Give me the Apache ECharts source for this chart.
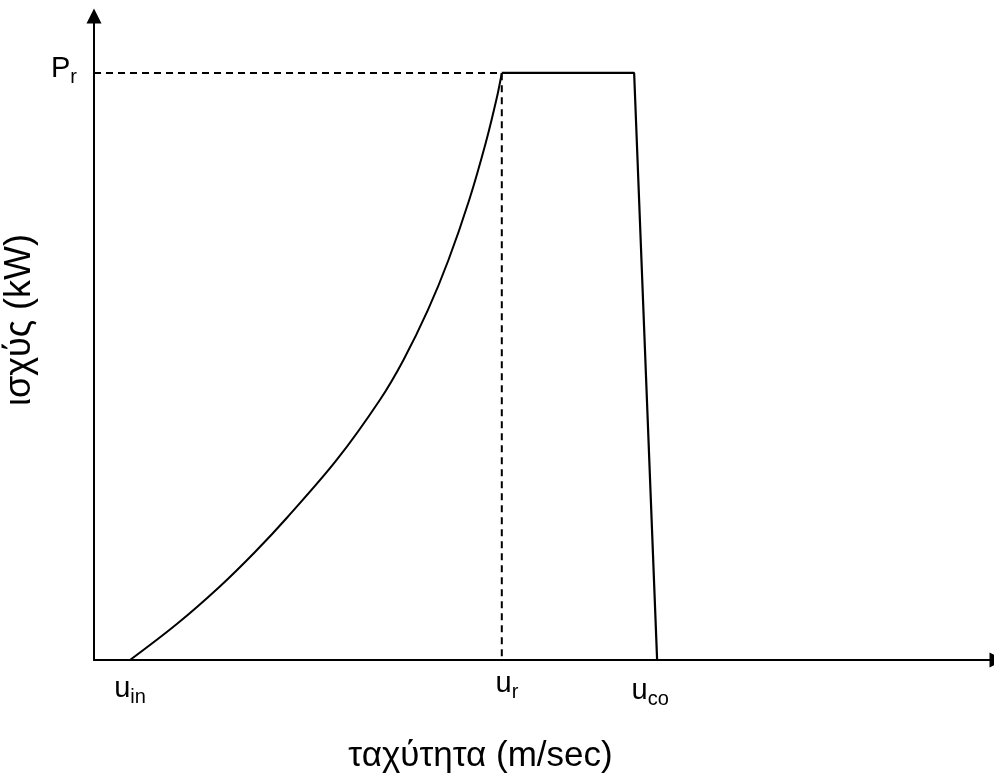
<!DOCTYPE html>
<html>
<head>
<meta charset="utf-8">
<script src="https://cdn.jsdelivr.net/npm/echarts@6/dist/echarts.min.js"></script>
<style>html,body{margin:0;padding:0;background:#fff}#c{width:994px;height:773px}</style>
</head>
<body>
<div id="c"></div>
<script>
// Power curve (rising part): wind speed (arbitrary units) vs power as fraction of Pr
const curveSpeed = [0.973, 2.238, 3.386, 4.351, 5.232, 6.557, 7.724, 8.362, 9.024, 9.578, 10.138, 10.584, 10.889, 11.019];
const curvePower = [0, 0.0613, 0.1244, 0.184, 0.2436, 0.3407, 0.4429, 0.5111, 0.5963, 0.6814, 0.7836, 0.8807, 0.9591, 1.0];
// Rated plateau and cut-out drop
const plateauSpeed = [11.019, 14.595, 15.216];
const plateauPower = [1, 1, 0];
// Dashed guide lines to Pr and u_r
const guideSpeed = [0, 11.019, 11.019];
const guidePower = [1, 1, 0];
// Tick labels
const xTickValues = [0.973, 11.16, 15.03];
const xTickLabels = ['u_in', 'u_r', 'u_co'];
const yTickValues = [1];
const yTickLabels = ['P_r'];
const xMax = 24.4;
const yMax = 1.097;

const zip = (a, b) => a.map((v, i) => [v, b[i]]);
const font = 'Liberation Sans, Arial, sans-serif';
const labelDrop = [5, 0, 7];
function fmt(lbls, vals, drops) {
  return function (v) {
    const idx = vals.findIndex(x => Math.abs(x - v) < 1e-6);
    if (idx < 0) return '';
    const parts = lbls[idx].split('_');
    const d = drops ? drops[idx] : 0;
    return '{m' + d + '|' + parts[0] + '}{s|' + parts[1] + '}';
  };
}
function richFor(drops) {
  const r = {s: {fontSize: 20, fontFamily: font, color: '#000', lineHeight: 20, verticalAlign: 'bottom'}};
  drops.forEach(d => {
    r['m' + d] = {fontSize: 29, fontFamily: font, color: '#000', lineHeight: 30 + d, verticalAlign: 'bottom', padding: [0, 0, 4, 0]};
  });
  return r;
}

const chart = echarts.init(document.getElementById('c'));
chart.setOption({
  animation: false,
  backgroundColor: '#fff',
  grid: {left: 94, top: 16, width: 903, bottom: 113, containLabel: false, outerBoundsMode: 'none'},
  xAxis: {
    type: 'value', min: 0, max: xMax,
    name: 'ταχύτητα (m/sec)', nameLocation: 'middle', nameGap: 79,
    nameTextStyle: {fontSize: 35, fontFamily: font, color: '#000', padding: [0, 130, 0, 0]},
    axisLine: {show: true, symbol: ['none', 'triangle'], symbolSize: [15, 15], lineStyle: {color: '#000', width: 2}},
    axisTick: {show: false},
    splitLine: {show: false},
    axisLabel: {customValues: xTickValues, formatter: fmt(xTickLabels, xTickValues, labelDrop), margin: 12, verticalAlign: 'top', rich: richFor(labelDrop)}
  },
  yAxis: {
    type: 'value', min: 0, max: yMax,
    name: 'ισχύς (kW)', nameLocation: 'middle', nameGap: 56, nameRotate: 90,
    nameTextStyle: {fontSize: 36, fontFamily: font, color: '#000', padding: [0, 0, 0, 36]},
    axisLine: {show: true, symbol: ['none', 'triangle'], symbolSize: [15, 15], lineStyle: {color: '#000', width: 2}},
    axisTick: {show: false},
    splitLine: {show: false},
    axisLabel: {customValues: yTickValues, formatter: fmt(yTickLabels, yTickValues, null), margin: 17, rich: richFor([0])}
  },
  series: [
    {type: 'line', data: zip(guideSpeed, guidePower), showSymbol: false, symbol: 'none',
     lineStyle: {color: '#000', width: 2, type: [7, 5]}, z: 1},
    {type: 'line', data: zip(curveSpeed, curvePower), smooth: 0.35, showSymbol: false, symbol: 'none',
     lineStyle: {color: '#000', width: 2}, z: 2},
    {type: 'line', data: zip(plateauSpeed, plateauPower), showSymbol: false, symbol: 'none',
     lineStyle: {color: '#000', width: 2.2}, z: 2}
  ]
});
</script>
</body>
</html>
